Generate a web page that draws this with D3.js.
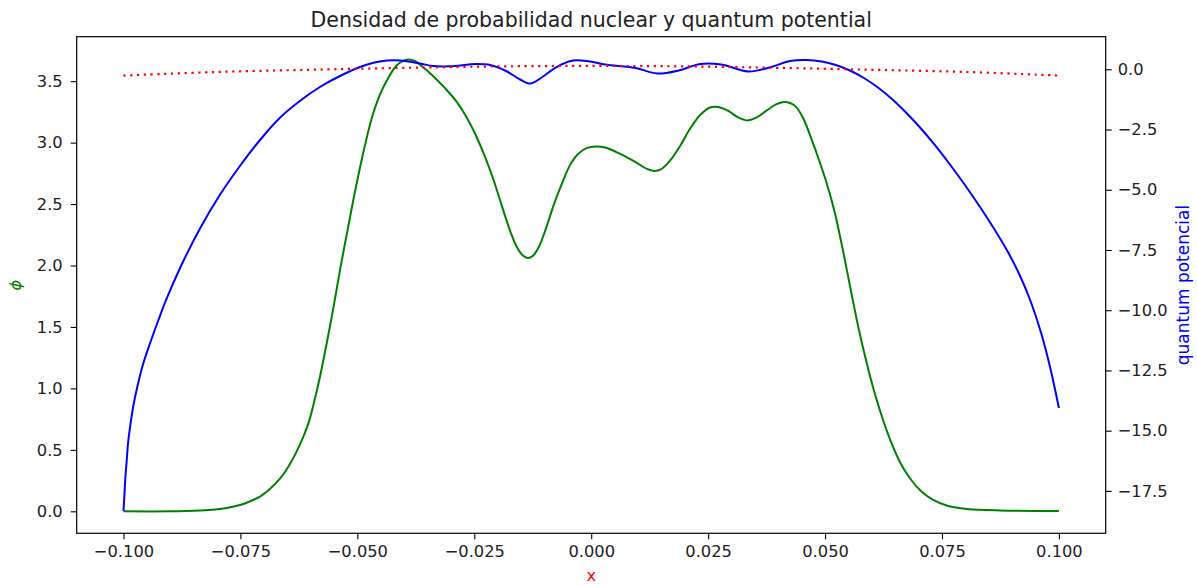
<!DOCTYPE html>
<html>
<head>
<meta charset="utf-8">
<script src="https://cdn.jsdelivr.net/npm/d3@7"></script>
<style>
  html, body { margin: 0; padding: 0; background: #fff; }
  svg { display: block; font-family: "DejaVu Sans", sans-serif; }
</style>
</head>
<body>
<svg id="chart" width="1197" height="585"></svg>
<script>
// ---- data ----
const xPhi = [-0.100, -0.090, -0.0836, -0.0804, -0.0779, -0.0751, -0.0730, -0.0708, -0.0687, -0.0665, -0.0644, -0.0623, -0.0605, -0.0593, -0.0580, -0.0567, -0.0552, -0.0537, -0.0520, -0.0503, -0.0486, -0.0469, -0.0452, -0.0434, -0.0417, -0.0400, -0.0391, -0.0377, -0.0360, -0.0338, -0.0313, -0.0289, -0.0268, -0.0247, -0.0227, -0.0208, -0.0191, -0.0174, -0.0159, -0.0146, -0.0136, -0.0125, -0.0112, -0.0097, -0.0080, -0.0062, -0.0045, -0.0028, -0.0009, 0.0010, 0.0030, 0.0062, 0.0094, 0.0119, 0.0134, 0.0149, 0.0168, 0.0190, 0.0211, 0.0233, 0.0254, 0.0271, 0.0293, 0.0314, 0.0333, 0.0352, 0.0374, 0.0395, 0.0412, 0.0425, 0.0436, 0.0453, 0.0470, 0.0487, 0.0504, 0.0521, 0.0538, 0.0555, 0.0572, 0.0589, 0.0606, 0.0624, 0.0641, 0.0660, 0.0681, 0.0705, 0.0731, 0.0763, 0.0803, 0.0874, 0.100];
const phiValues = [0.000, 0.000, 0.007, 0.015, 0.027, 0.051, 0.080, 0.120, 0.181, 0.267, 0.385, 0.540, 0.711, 0.880, 1.093, 1.337, 1.638, 1.964, 2.306, 2.639, 2.940, 3.200, 3.388, 3.526, 3.624, 3.669, 3.677, 3.665, 3.616, 3.543, 3.445, 3.339, 3.217, 3.062, 2.884, 2.688, 2.485, 2.289, 2.151, 2.082, 2.062, 2.078, 2.151, 2.298, 2.493, 2.672, 2.819, 2.908, 2.957, 2.969, 2.961, 2.908, 2.843, 2.786, 2.770, 2.782, 2.851, 2.973, 3.111, 3.225, 3.286, 3.290, 3.258, 3.205, 3.181, 3.201, 3.258, 3.311, 3.331, 3.323, 3.299, 3.201, 3.038, 2.859, 2.663, 2.428, 2.127, 1.801, 1.484, 1.207, 0.963, 0.743, 0.564, 0.401, 0.271, 0.165, 0.092, 0.043, 0.019, 0.007, 0.003];

const xQ = [-0.1000, -0.0998, -0.0996, -0.0993, -0.0990, -0.0985, -0.0979, -0.0970, -0.0958, -0.0943, -0.0926, -0.0908, -0.0879, -0.0837, -0.0794, -0.0751, -0.0708, -0.0666, -0.0623, -0.0580, -0.0537, -0.0494, -0.0452, -0.0409, -0.0366, -0.0338, -0.0302, -0.0246, -0.0216, -0.0182, -0.0152, -0.0130, -0.0109, -0.0074, -0.0039, -0.0003, 0.0030, 0.0095, 0.0141, 0.0187, 0.0233, 0.0278, 0.0336, 0.0385, 0.0425, 0.0461, 0.0493, 0.0523, 0.0553, 0.0583, 0.0613, 0.0643, 0.0673, 0.0703, 0.0735, 0.0767, 0.0799, 0.0831, 0.0863, 0.0891, 0.0917, 0.0940, 0.0962, 0.0981, 0.100];
const qValues = [-18.334, -17.670, -16.964, -16.217, -15.470, -14.723, -13.976, -13.145, -12.232, -11.361, -10.447, -9.534, -8.247, -6.628, -5.217, -4.014, -2.935, -2.021, -1.316, -0.735, -0.278, 0.095, 0.324, 0.365, 0.241, 0.137, 0.125, 0.220, 0.178, -0.071, -0.423, -0.589, -0.382, 0.095, 0.365, 0.324, 0.199, 0.054, -0.174, -0.050, 0.220, 0.199, -0.091, 0.095, 0.345, 0.386, 0.324, 0.178, -0.050, -0.361, -0.755, -1.233, -1.793, -2.416, -3.150, -3.952, -4.802, -5.707, -6.670, -7.583, -8.580, -9.659, -10.946, -12.357, -14.059];

const xRed = [-0.100, -0.080, -0.060, -0.040, -0.020, 0.000, 0.020, 0.040, 0.060, 0.080, 0.100];
const redValues = [-0.26, -0.11, -0.02, 0.06, 0.12, 0.14, 0.12, 0.06, -0.02, -0.11, -0.26];

const xTicks = [-0.100, -0.075, -0.050, -0.025, 0.000, 0.025, 0.050, 0.075, 0.100];
const leftTicks = [0.0, 0.5, 1.0, 1.5, 2.0, 2.5, 3.0, 3.5];
const rightTicks = [0.0, -2.5, -5.0, -7.5, -10.0, -12.5, -15.0, -17.5];

const titleText = "Densidad de probabilidad nuclear y quantum potential";
const xLabel = "x";
const leftLabel = "\u03D5";
const rightLabel = "quantum potencial";

// ---- layout ----
const L = 76.7, R = 1105.7, T = 36.7, B = 533.3;
const svg = d3.select("#chart");

const x = d3.scaleLinear().domain([-0.11, 0.11]).range([L, R]);
const yL = d3.scaleLinear().domain([-0.179, 3.862]).range([B, T]);
const yR = d3.scaleLinear().domain([-19.26, 1.353]).range([B, T]);

const tickFont = 16.3;

// axes
const gx = svg.append("g").attr("transform", `translate(0,${B})`)
  .call(d3.axisBottom(x).tickValues(xTicks).tickFormat(d3.format(".3f")).tickSizeOuter(0).tickSize(6).tickPadding(6));
const gl = svg.append("g").attr("transform", `translate(${L},0)`)
  .call(d3.axisLeft(yL).tickValues(leftTicks).tickFormat(d3.format(".1f")).tickSizeOuter(0).tickSize(6).tickPadding(8));
const gr = svg.append("g").attr("transform", `translate(${R},0)`)
  .call(d3.axisRight(yR).tickValues(rightTicks).tickFormat(d3.format(".1f")).tickSizeOuter(0).tickSize(6).tickPadding(6));

[gx, gl, gr].forEach(g => {
  g.select(".domain").remove();
  g.selectAll(".tick line").attr("stroke", "#000").attr("stroke-width", 1.1);
  g.selectAll(".tick text").attr("fill", "#222").style("font-size", tickFont + "px").style("font-family", "DejaVu Sans");
});

// frame
svg.append("rect").attr("x", L).attr("y", T).attr("width", R - L).attr("height", B - T)
  .attr("fill", "none").attr("stroke", "#000").attr("stroke-width", 1.2);

// lines
const curve = d3.curveCatmullRom.alpha(0.5);
const lineL = d3.line().x(d => x(d[0])).y(d => yL(d[1])).curve(curve);
const lineR = d3.line().x(d => x(d[0])).y(d => yR(d[1])).curve(curve);

svg.append("path").datum(d3.zip(xPhi, phiValues))
  .attr("d", lineL).attr("fill", "none").attr("stroke", "green").attr("stroke-width", 2);

svg.append("path").datum(d3.zip(xQ, qValues))
  .attr("d", lineR).attr("fill", "none").attr("stroke", "blue").attr("stroke-width", 2);

svg.append("path").datum(d3.zip(xRed, redValues))
  .attr("d", lineR).attr("fill", "none").attr("stroke", "red").attr("stroke-width", 2.2)
  .attr("stroke-dasharray", "2.2,4.6");

// texts
svg.append("text").attr("x", (L + R) / 2).attr("y", 27).attr("text-anchor", "middle")
  .style("font-size", "20.5px").attr("fill", "#222").text(titleText);

svg.append("text").attr("x", (L + R) / 2).attr("y", 581).attr("text-anchor", "middle")
  .style("font-size", tickFont + "px").attr("fill", "red").text(xLabel);

svg.append("text").attr("transform", `translate(21,${(T + B) / 2}) rotate(-90)`)
  .attr("text-anchor", "middle").style("font-size", tickFont + "px").style("font-style", "italic")
  .attr("fill", "green").text(leftLabel);

svg.append("text").attr("transform", `translate(1189,${(T + B) / 2}) rotate(-90)`)
  .attr("text-anchor", "middle").style("font-size", "17px")
  .attr("fill", "blue").text(rightLabel);
</script>
</body>
</html>
